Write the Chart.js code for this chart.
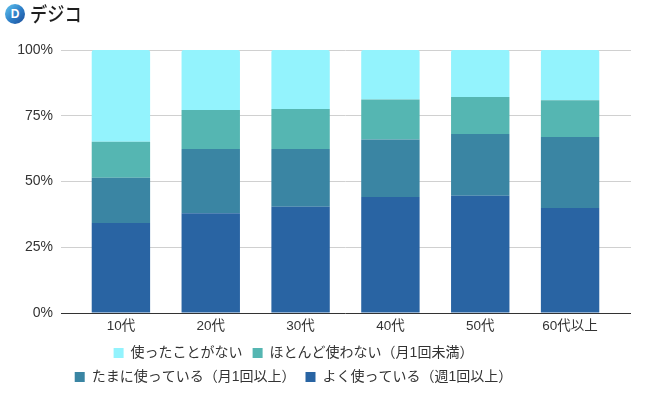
<!DOCTYPE html>
<html lang="ja">
<head>
<meta charset="utf-8">
<title>利用頻度</title>
<script src="https://cdn.jsdelivr.net/npm/chart.js@4.4.0/dist/chart.umd.min.js"></script>
<style>
    html, body { margin: 0; padding: 0; background: #fff; }
    #wrap { position: relative; width: 650px; height: 401px; overflow: hidden; }
    #chart { position: absolute; left: 0; top: 0; }
    .logo { position: absolute; left: 5px; top: 4px; display: flex; align-items: center; z-index: 2; }
    .logo-mark {
        width: 20px; height: 20px; border-radius: 50%;
        background: linear-gradient(135deg, #63c7f0 0%, #2c7cc6 55%, #1d4d98 100%);
        color: #fff; font: bold 12px "Liberation Sans", sans-serif;
        display: flex; align-items: center; justify-content: center;
    }
    .logo-text {
        margin-left: 5px; font: 500 20px "Noto Sans CJK JP", sans-serif; color: #1e1e1e;
        line-height: 20px; transform: scaleX(0.86); transform-origin: left center;
    }
</style>
</head>
<body>
<div id="wrap">
    <div class="logo"><div class="logo-mark">D</div><div class="logo-text">デジコ</div></div>
    <canvas id="chart" width="650" height="401"></canvas>
</div>
<script>
"use strict";

var categories = ["10代", "20代", "30代", "40代", "50代", "60代以上"];
var seriesLabels = ["よく使っている（週1回以上）", "たまに使っている（月1回以上）", "ほとんど使わない（月1回未満）", "使ったことがない"];
var oftenUse = [34.2, 37.9, 40.4, 44.1, 44.6, 39.9];
var sometimesUse = [17.2, 24.5, 22.0, 21.9, 23.5, 27.0];
var rarelyUse = [13.7, 14.8, 15.2, 15.2, 14.0, 14.0];
var neverUsed = [34.9, 22.8, 22.4, 18.8, 17.9, 19.1];
var yTicks = [0, 25, 50, 75, 100];
var yTickLabels = ["0%", "25%", "50%", "75%", "100%"];

var seriesColors = ["#2964a3", "#3a85a3", "#55b6b2", "#93f3fd"];

Chart.defaults.font.family = "'Liberation Sans', 'Noto Sans CJK JP', sans-serif";
Chart.defaults.color = "#333333";

function gridColor(ctx) {
    return ctx.tick && ctx.tick.value === 0 ? "#333333" : "#d0d0d0";
}

function setTicks(scale) {
    scale.ticks = yTicks.map(function (v) { return { value: v }; });
}

// legend sits a bit left of the plot centre in the original
var legendOffset = {
    id: "legendOffset",
    afterLayout: function (chart) {
        chart.legend.left -= 52;
        chart.legend.right -= 52;
    }
};

var values = [oftenUse, sometimesUse, rarelyUse, neverUsed];
var datasets = values.map(function (data, i) {
    return {
        label: seriesLabels[i],
        data: data,
        backgroundColor: seriesColors[i],
        borderWidth: 0,
        borderRadius: i === values.length - 1 ? { topLeft: 2, topRight: 2 } : 0,
        borderSkipped: false,
        categoryPercentage: 1,
        barPercentage: 0.65
    };
});

new Chart(document.getElementById("chart"), {
    type: "bar",
    plugins: [legendOffset],
    data: {
        labels: categories,
        datasets: datasets
    },
    options: {
        responsive: false,
        animation: false,
        layout: {
            padding: { top: 50, left: 16, right: 19, bottom: 7 }
        },
        plugins: {
            legend: {
                position: "bottom",
                fullSize: false,
                reverse: true,
                labels: {
                    boxWidth: 10,
                    boxHeight: 10,
                    padding: 10,
                    color: "#333333",
                    font: { size: 14 }
                }
            },
            tooltip: { enabled: false }
        },
        scales: {
            x: {
                stacked: true,
                grid: { display: false, drawTicks: false },
                border: { display: false },
                ticks: { padding: 5, font: { size: 13.5 }, color: "#333333" },
                afterFit: function (scale) { scale.height = 23; }
            },
            y: {
                stacked: true,
                min: 0,
                max: 100,
                afterBuildTicks: setTicks,
                grid: { color: gridColor, tickLength: 15 },
                border: { display: false },
                ticks: {
                    padding: 8,
                    font: { size: 14 },
                    color: "#333333",
                    callback: function (value) { return yTickLabels[yTicks.indexOf(value)]; }
                },
                afterFit: function (scale) { scale.width = 60; }
            },
            y2: {
                position: "right",
                min: 0,
                max: 100,
                afterBuildTicks: setTicks,
                grid: { color: gridColor, tickLength: 16, drawOnChartArea: false },
                border: { display: false },
                ticks: { display: false },
                afterFit: function (scale) { scale.width = 16; }
            }
        }
    }
});
</script>
</body>
</html>
